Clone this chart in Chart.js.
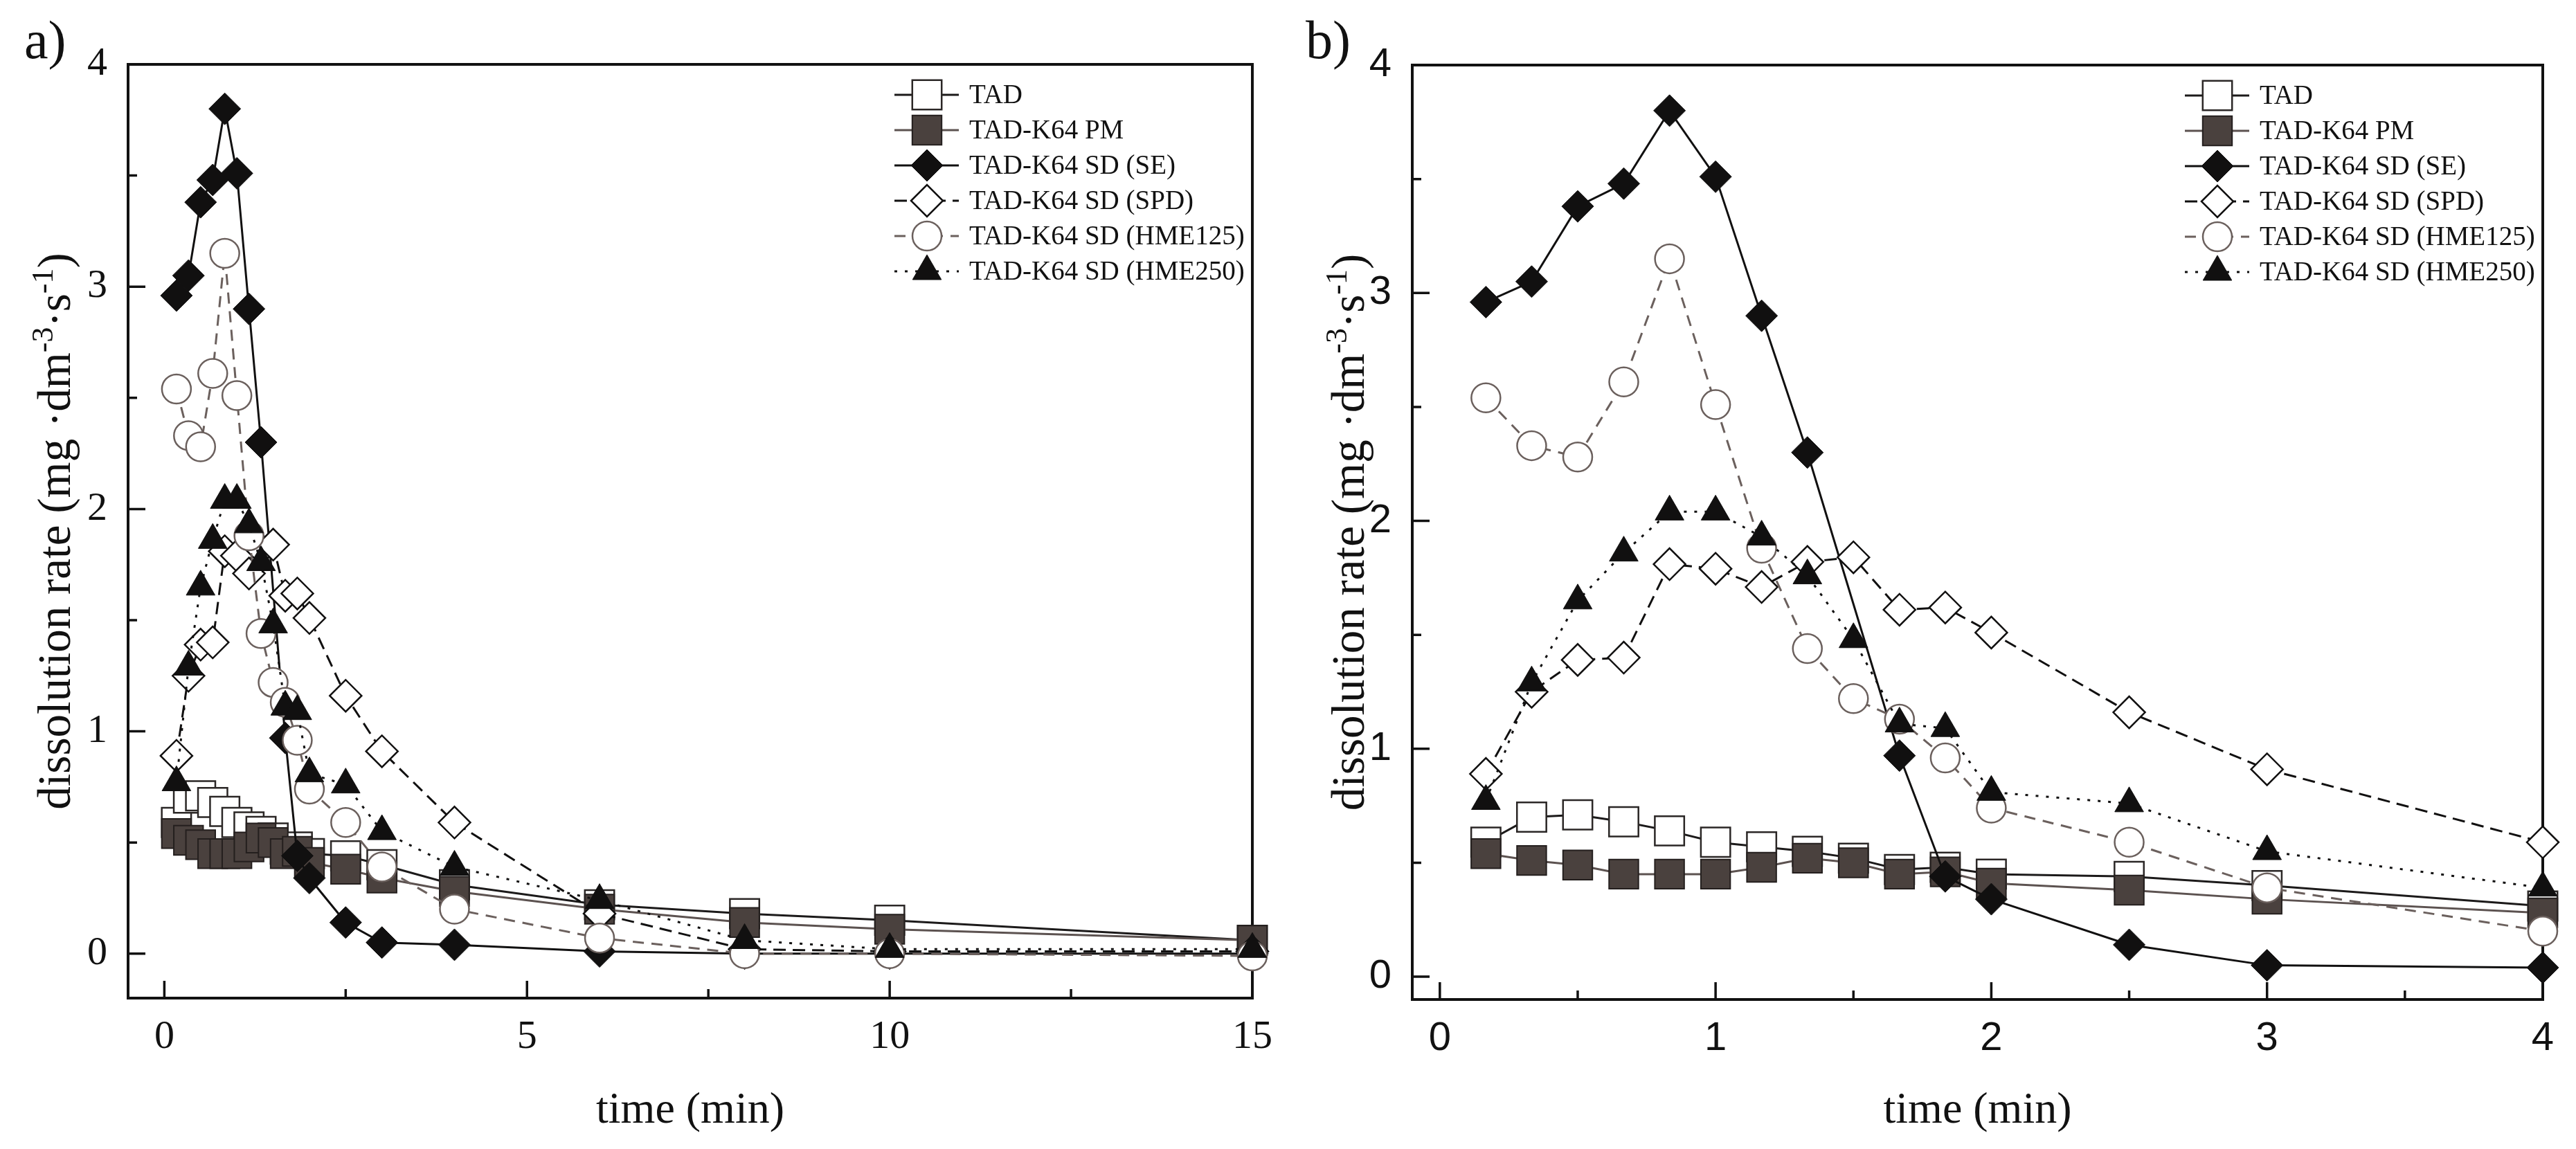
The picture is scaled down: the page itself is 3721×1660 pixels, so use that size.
<!DOCTYPE html>
<html>
<head>
<meta charset="utf-8">
<script src="https://cdn.jsdelivr.net/npm/chart.js@4.4.1/dist/chart.umd.min.js"></script>
<style>
html, body { margin: 0; padding: 0; background: #fff; width: 3721px; height: 1660px; overflow: hidden; }
.panel { position: absolute; top: 0; height: 1660px; }
#wrapA { left: 0; width: 1860px; }
#wrapB { left: 1860px; width: 1861px; }
#probe { position: absolute; left: -9999px; top: 0; font: 64px "Liberation Serif"; }
</style>
</head>
<body>
<div class="panel" id="wrapA"><canvas id="panelA" width="1860" height="1660"></canvas></div>
<div class="panel" id="wrapB"><canvas id="panelB" width="1861" height="1660"></canvas></div>
<script>
// sampling times (min)
const times = [0.167, 0.333, 0.5, 0.667, 0.833, 1, 1.167, 1.333, 1.5, 1.667, 1.833, 2, 2.5, 3, 4, 6, 8, 10, 15];

// dissolution rate (mg dm-3 s-1)
const tadRate    = [0.59, 0.70, 0.71, 0.68, 0.64, 0.59, 0.57, 0.55, 0.52, 0.47, 0.48, 0.45, 0.44, 0.40, 0.31, 0.22, 0.18, 0.15, 0.06];
const pmRate     = [0.54, 0.51, 0.49, 0.45, 0.45, 0.45, 0.48, 0.52, 0.50, 0.45, 0.46, 0.41, 0.38, 0.34, 0.28, 0.20, 0.14, 0.11, 0.06];
const seRate     = [2.96, 3.05, 3.38, 3.48, 3.80, 3.51, 2.90, 2.30, null, 0.97, 0.44, 0.34, 0.14, 0.05, 0.04, 0.01, 0.00, 0.00, 0.00];
const spdRate    = [0.89, 1.25, 1.39, 1.40, 1.81, 1.79, 1.71, 1.82, 1.84, 1.61, 1.62, 1.51, 1.16, 0.91, 0.59, 0.18, 0.02, 0.01, 0.01];
const hme125Rate = [2.54, 2.33, 2.28, 2.61, 3.15, 2.51, 1.88, 1.44, 1.22, 1.13, 0.96, 0.74, 0.59, 0.39, 0.20, 0.07, 0.00, 0.00, -0.01];
const hme250Rate = [0.77, 1.29, 1.65, 1.86, 2.04, 2.04, 1.93, 1.76, 1.48, 1.11, 1.09, 0.81, 0.76, 0.55, 0.39, 0.24, 0.06, 0.02, 0.02];

const seriesNames = ['TAD', 'TAD-K64 PM', 'TAD-K64 SD (SE)', 'TAD-K64 SD (SPD)', 'TAD-K64 SD (HME125)', 'TAD-K64 SD (HME250)'];
const seriesValues = [tadRate, pmRate, seRate, spdRate, hme125Rate, hme250Rate];

// tick labels
const xTicksA = [0, 5, 10, 15];
const xMinorA = [2.5, 7.5, 12.5];
const xTicksB = [0, 1, 2, 3, 4];
const xMinorB = [0.5, 1.5, 2.5, 3.5];
const yTicks = [0, 1, 2, 3, 4];
const yMinor = [0.5, 1.5, 2.5, 3.5];

const SERIF = '"Liberation Serif", "Times New Roman", Times, "Nimbus Roman", "Nimbus Roman No9 L", serif';
const SANS = '"Liberation Sans", Arial, Helvetica, sans-serif';

// look of every series
const styles = [
    { shape: 'rect',     r: 30, fill: '#ffffff', edge: '#2b2726', line: '#1c1a1a', dash: [],       bw: 2.5 },
    { shape: 'rect',     r: 30, fill: '#4a413e', edge: '#241f1e', line: '#5c5250', dash: [],       bw: 2 },
    { shape: 'rectRot',  r: 23, fill: '#111010', edge: '#111010', line: '#111010', dash: [],       bw: 1 },
    { shape: 'rectRot',  r: 23, fill: '#ffffff', edge: '#111010', line: '#111010', dash: [18, 10], bw: 2.5 },
    { shape: 'circle',   r: 21, fill: '#ffffff', edge: '#6b605d', line: '#6b605d', dash: [16, 11], bw: 2.5 },
    { shape: 'triangle', r: 24, fill: '#111010', edge: '#111010', line: '#111010', dash: [4, 11],  bw: 1 }
];

function buildPoints(values, count) {
    const pts = [];
    for (let i = 0; i < count; i++) {
        if (values[i] !== null) pts.push({ x: times[i], y: values[i] });
    }
    return pts;
}

function drawYTitle(ctx, x, cy, size) {
    const sup = Math.round(size * 0.65);
    const parts = [['dissolution rate (mg ·dm', false], ['-3', true], ['·s', false], ['-1', true], [')', false]];
    ctx.save();
    ctx.translate(x, cy);
    ctx.rotate(-Math.PI / 2);
    ctx.fillStyle = '#111';
    ctx.textAlign = 'left';
    ctx.textBaseline = 'alphabetic';
    let total = 0;
    parts.forEach(p => {
        ctx.font = (p[1] ? sup : size) + 'px ' + SERIF;
        total += ctx.measureText(p[0]).width;
    });
    let pos = -total / 2;
    parts.forEach(p => {
        ctx.font = (p[1] ? sup : size) + 'px ' + SERIF;
        ctx.fillText(p[0], pos, p[1] ? -size * 0.38 : 0);
        pos += ctx.measureText(p[0]).width;
    });
    ctx.restore();
}

function makePanel(canvasId, cfg) {
    const count = cfg.count;
    const datasets = seriesNames.map((name, i) => ({
        label: name,
        data: buildPoints(seriesValues[i], count),
        borderColor: styles[i].line,
        borderWidth: 3,
        borderDash: styles[i].dash,
        pointStyle: styles[i].shape,
        pointRadius: styles[i].r,
        pointBackgroundColor: styles[i].fill,
        pointBorderColor: styles[i].edge,
        pointBorderWidth: styles[i].bw,
        tension: 0,
        clip: false,
        order: seriesNames.length - i
    }));

    const panelPlugin = {
        id: 'panelDecor' + canvasId,
        beforeDatasetsDraw(chart) {
            const { ctx, chartArea: a, scales } = chart;
            ctx.save();
            ctx.strokeStyle = '#111';
            ctx.lineWidth = 4;
            ctx.strokeRect(a.left, a.top, a.right - a.left, a.bottom - a.top);
            ctx.lineWidth = 3.5;
            ctx.beginPath();
            cfg.xTicks.forEach(v => {
                const px = scales.x.getPixelForValue(v);
                ctx.moveTo(px, a.bottom); ctx.lineTo(px, a.bottom - 25);
            });
            cfg.xMinor.forEach(v => {
                const px = scales.x.getPixelForValue(v);
                ctx.moveTo(px, a.bottom); ctx.lineTo(px, a.bottom - 13);
            });
            yTicks.forEach(v => {
                const py = scales.y.getPixelForValue(v);
                ctx.moveTo(a.left, py); ctx.lineTo(a.left + 25, py);
            });
            yMinor.forEach(v => {
                const py = scales.y.getPixelForValue(v);
                ctx.moveTo(a.left, py); ctx.lineTo(a.left + 13, py);
            });
            ctx.stroke();
            ctx.restore();
        },
        afterDraw(chart) {
            const { ctx, chartArea: a } = chart;
            // legend inside the frame, top right
            ctx.save();
            seriesNames.forEach((name, i) => {
                const s = styles[i];
                const y = a.top + 44 + i * 51;
                ctx.strokeStyle = s.line;
                ctx.lineWidth = 3;
                ctx.setLineDash(s.dash);
                ctx.beginPath();
                ctx.moveTo(a.right - 517, y);
                ctx.lineTo(a.right - 424, y);
                ctx.stroke();
                ctx.setLineDash([]);
                ctx.fillStyle = s.fill;
                ctx.strokeStyle = s.edge;
                ctx.lineWidth = s.bw;
                Chart.helpers.drawPoint(ctx, { pointStyle: s.shape, radius: s.r, rotation: 0, borderWidth: s.bw }, a.right - 470, y);
                ctx.fillStyle = '#111';
                ctx.font = '39px ' + SERIF;
                ctx.textAlign = 'left';
                ctx.textBaseline = 'middle';
                ctx.fillText(name, a.right - 409, y + 2);
            });
            // panel letter
            ctx.fillStyle = '#111';
            ctx.font = '78px ' + SERIF;
            ctx.textAlign = 'left';
            ctx.textBaseline = 'alphabetic';
            ctx.fillText(cfg.letter, cfg.letterX, 84);
            ctx.restore();
            drawYTitle(ctx, a.left - cfg.titleGap, (a.top + a.bottom) / 2, 67);
        }
    };

    return new Chart(document.getElementById(canvasId), {
        type: 'line',
        data: { datasets: datasets },
        plugins: [panelPlugin],
        options: {
            responsive: false,
            devicePixelRatio: 1,
            animation: false,
            layout: { padding: { left: 0, top: cfg.top, right: cfg.right, bottom: 0 } },
            plugins: { legend: { display: false }, tooltip: { enabled: false } },
            scales: {
                x: {
                    type: 'linear',
                    min: cfg.xMin,
                    max: cfg.xMax,
                    afterBuildTicks: sc => { sc.ticks = cfg.xTicks.map(v => ({ value: v })); },
                    afterFit: sc => { sc.height = cfg.xAxisHeight; },
                    grid: { display: false, drawTicks: false },
                    border: { display: false },
                    ticks: { color: '#111', padding: 22, maxRotation: 0, font: { family: cfg.tickFont, size: 58 } },
                    title: {
                        display: true,
                        text: 'time (min)',
                        color: '#111',
                        font: { family: SERIF, size: 64 },
                        padding: { top: 0, bottom: 16 }
                    }
                },
                y: {
                    type: 'linear',
                    min: cfg.yMin,
                    max: 4,
                    afterBuildTicks: sc => { sc.ticks = yTicks.map(v => ({ value: v })); },
                    afterFit: sc => { sc.width = cfg.left; },
                    grid: { display: false, drawTicks: false },
                    border: { display: false },
                    ticks: { color: '#111', padding: 30, font: { family: cfg.tickFont, size: 58 } }
                }
            }
        }
    });
}

makePanel('panelA', {
    count: times.length, xMin: -0.5, xMax: 15, yMin: -0.2,
    xTicks: xTicksA, xMinor: xMinorA,
    left: 185, top: 93, right: 38, xAxisHeight: 218,
    tickFont: SERIF, letter: 'a)', letterX: 35, titleGap: 84
});

makePanel('panelB', {
    count: 15, xMin: -0.1, xMax: 4, yMin: -0.1,
    xTicks: xTicksB, xMinor: xMinorB,
    left: 180, top: 94, right: 48, xAxisHeight: 216,
    tickFont: SANS, letter: 'b)', letterX: 26, titleGap: 70
});
</script>
</body>
</html>
